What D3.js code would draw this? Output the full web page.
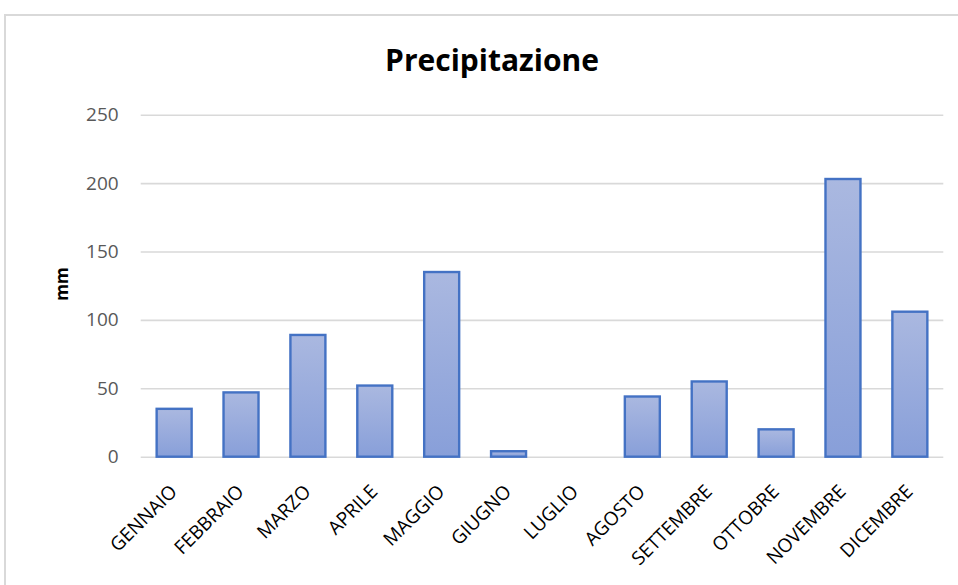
<!DOCTYPE html>
<html>
<head>
<meta charset="utf-8">
<script src="https://cdn.jsdelivr.net/npm/d3@7"></script>
<style>
  html, body { margin: 0; padding: 0; background: #ffffff; }
  svg { display: block; }
</style>
</head>
<body>
<svg id="chart" width="958" height="585"></svg>
<script>
// Monthly precipitation (mm)
const months = ["GENNAIO", "FEBBRAIO", "MARZO", "APRILE", "MAGGIO", "GIUGNO",
                "LUGLIO", "AGOSTO", "SETTEMBRE", "OTTOBRE", "NOVEMBRE", "DICEMBRE"];
const precipitation = [35, 47, 89, 52, 135, 4, 0, 44, 55, 20, 203, 106];
const yTicks = [0, 50, 100, 150, 200, 250];
const title = "Precipitazione";
const yLabel = "mm";

const svg = d3.select("#chart");
const fontFamily = "'Open Sans', 'Noto Sans', sans-serif";

// chart frame (open at the right and bottom edges of the page)
svg.append("rect")
  .attr("x", 5).attr("y", 15)
  .attr("width", 1000).attr("height", 600)
  .attr("fill", "#ffffff")
  .attr("stroke", "#d9d9d9").attr("stroke-width", 2);

const plot = { left: 140.7, right: 943.3, top: 114.7, bottom: 456.7 };

const x = d3.scaleBand()
  .domain(months)
  .range([plot.left, plot.right])
  .paddingInner(0.477).paddingOuter(0.2385);

const y = d3.scaleLinear()
  .domain([0, 250])
  .range([plot.bottom, plot.top]);

// gradient fill for the bars
const defs = svg.append("defs");
const grad = defs.append("linearGradient")
  .attr("id", "barFill")
  .attr("x1", 0).attr("y1", 0).attr("x2", 0).attr("y2", 1);
grad.append("stop").attr("offset", "0%").attr("stop-color", "#aab8e0");
grad.append("stop").attr("offset", "100%").attr("stop-color", "#889fd9");

// horizontal gridlines
const yAxis = d3.axisLeft(y)
  .tickValues(yTicks)
  .tickSize(-(plot.right - plot.left))
  .tickPadding(22);

const gy = svg.append("g")
  .attr("transform", `translate(${plot.left},0)`)
  .call(yAxis);
gy.select(".domain").remove();
gy.selectAll(".tick line")
  .attr("stroke", "#d9d9d9").attr("stroke-width", 1.6);
gy.selectAll(".tick text")
  .attr("fill", "#595959")
  .attr("font-family", fontFamily)
  .attr("font-size", 19);

// bars
svg.append("g").selectAll("rect")
  .data(months.map((m, i) => ({ month: m, value: precipitation[i] })))
  .join("rect")
  .filter(d => d.value > 0)
  .attr("x", d => x(d.month))
  .attr("y", d => y(d.value))
  .attr("width", x.bandwidth())
  .attr("height", d => y(0) - y(d.value))
  .attr("fill", "url(#barFill)")
  .attr("stroke", "#4472c4")
  .attr("stroke-width", 2.4);

// category axis
const xAxis = d3.axisBottom(x).tickSize(0).tickPadding(0);
const gx = svg.append("g")
  .attr("transform", `translate(0,${plot.bottom})`)
  .call(xAxis);
gx.select(".domain").remove();
gx.selectAll(".tick text")
  .attr("fill", "#000000")
  .attr("font-family", fontFamily)
  .attr("font-size", 19)
  .attr("text-anchor", "end")
  .attr("dy", null).attr("y", null)
  .attr("transform", "translate(4,36) rotate(-45)");

// title
svg.append("text")
  .attr("x", 492).attr("y", 71)
  .attr("text-anchor", "middle")
  .attr("font-family", fontFamily)
  .attr("font-weight", "bold")
  .attr("font-size", 30)
  .attr("fill", "#000000")
  .text(title);

// y-axis title
svg.append("text")
  .attr("transform", "translate(68,284) rotate(-90)")
  .attr("text-anchor", "middle")
  .attr("font-family", fontFamily)
  .attr("font-weight", "bold")
  .attr("font-size", 17)
  .attr("fill", "#000000")
  .text(yLabel);
</script>
</body>
</html>
